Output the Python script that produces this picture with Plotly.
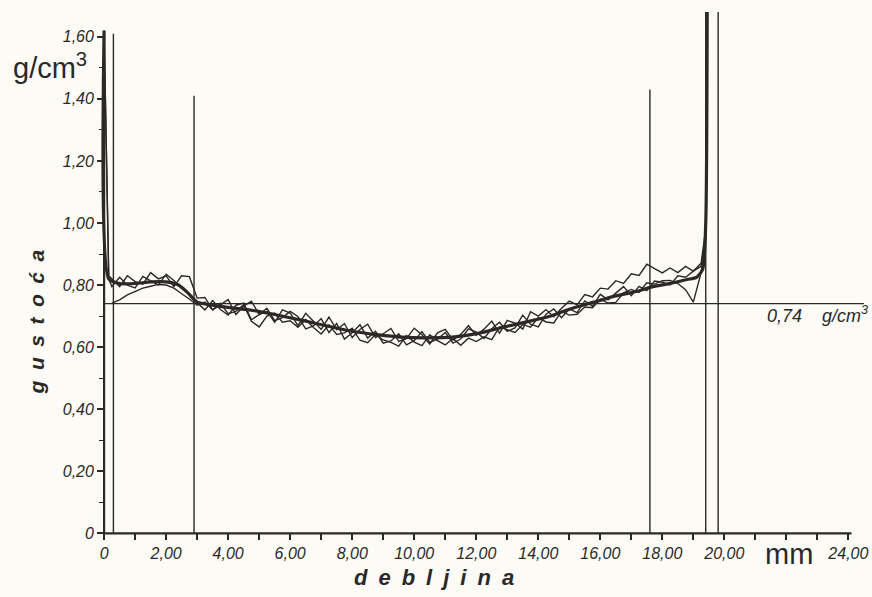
import plotly.graph_objects as go

# ---------------- data ----------------
thickness_mm = [0.0, 0.15,
    0.25, 0.5, 0.75, 1.0, 1.25, 1.5, 1.75, 2.0, 2.25, 2.5, 2.75, 3.0,
    3.25, 3.5, 3.75, 4.0, 4.25, 4.5, 4.75, 5.0, 5.25, 5.5, 5.75, 6.0,
    6.25, 6.5, 6.75, 7.0, 7.25, 7.5, 7.75, 8.0, 8.25, 8.5, 8.75, 9.0,
    9.25, 9.5, 9.75, 10.0, 10.25, 10.5, 10.75, 11.0, 11.25, 11.5, 11.75, 12.0,
    12.25, 12.5, 12.75, 13.0, 13.25, 13.5, 13.75, 14.0, 14.25, 14.5, 14.75, 15.0,
    15.25, 15.5, 15.75, 16.0, 16.25, 16.5, 16.75, 17.0, 17.25, 17.5, 17.75, 18.0,
    18.25, 18.5, 18.75, 19.0,
    19.25, 19.4, 19.45]

density_a = [1.62, 0.83,
    0.820, 0.795, 0.830, 0.811, 0.803, 0.840, 0.820, 0.830, 0.795, 0.830, 0.827, 0.758,
    0.760, 0.720, 0.736, 0.753, 0.705, 0.732, 0.748, 0.705, 0.715, 0.680, 0.720, 0.710,
    0.669, 0.709, 0.683, 0.657, 0.697, 0.656, 0.676, 0.631, 0.657, 0.674, 0.631, 0.643,
    0.660, 0.618, 0.627, 0.661, 0.640, 0.610, 0.646, 0.657, 0.623, 0.641, 0.669, 0.638,
    0.658, 0.684, 0.645, 0.686, 0.677, 0.658, 0.714, 0.700, 0.721, 0.698, 0.725, 0.748,
    0.736, 0.769, 0.762, 0.790, 0.787, 0.814, 0.805, 0.836, 0.831, 0.867, 0.853, 0.839,
    0.855, 0.840, 0.860, 0.845,
    0.87, 0.98, 1.80]

density_b = [1.62, 0.82,
    0.795, 0.825, 0.800, 0.791, 0.828, 0.815, 0.800, 0.835, 0.815, 0.790, 0.772, 0.743,
    0.720, 0.750, 0.721, 0.703, 0.735, 0.742, 0.688, 0.705, 0.725, 0.685, 0.695, 0.715,
    0.699, 0.659, 0.668, 0.692, 0.647, 0.676, 0.626, 0.646, 0.672, 0.629, 0.651, 0.613,
    0.620, 0.643, 0.607, 0.621, 0.650, 0.615, 0.626, 0.647, 0.613, 0.626, 0.659, 0.648,
    0.628, 0.659, 0.680, 0.651, 0.662, 0.703, 0.674, 0.665, 0.706, 0.723, 0.695, 0.723,
    0.711, 0.749, 0.732, 0.770, 0.752, 0.774, 0.795, 0.766, 0.796, 0.782, 0.813, 0.809,
    0.800, 0.830, 0.825, 0.845,
    0.86, 0.96, 1.80]

density_c = [None, None,
    0.742, 0.752, 0.768, 0.780, 0.790, 0.796, 0.802, 0.800, 0.790, 0.772, 0.755, 0.735,
    0.745, 0.720, 0.741, 0.708, 0.715, 0.737, 0.683, 0.665, 0.700, 0.710, 0.680, 0.685,
    0.664, 0.689, 0.663, 0.642, 0.672, 0.641, 0.646, 0.661, 0.622, 0.614, 0.641, 0.623,
    0.615, 0.603, 0.637, 0.616, 0.605, 0.640, 0.621, 0.607, 0.628, 0.606, 0.629, 0.618,
    0.633, 0.624, 0.665, 0.656, 0.647, 0.673, 0.664, 0.695, 0.681, 0.678, 0.715, 0.703,
    0.706, 0.729, 0.727, 0.755, 0.742, 0.744, 0.775, 0.786, 0.776, 0.807, 0.803, 0.814,
    0.815, 0.805, 0.785, 0.745,
    0.84, 0.95, 1.80]

mean_x = [0.0, 0.15, 0.5, 1.0, 1.5, 2.0, 2.4, 2.7, 3.0, 3.5, 4.0, 4.8, 5.5, 6.4, 7.2,
          8.0, 8.8, 9.6, 10.4, 11.3, 12.1, 12.9, 13.7, 14.4, 15.0, 15.8, 16.5, 17.2,
          17.7, 18.3, 18.8, 19.1, 19.3, 19.4, 19.45]
mean_density = [1.62, 0.82, 0.805, 0.805, 0.81, 0.81, 0.80, 0.775, 0.745, 0.735, 0.728,
                0.718, 0.705, 0.686, 0.668, 0.651, 0.64, 0.632, 0.630, 0.633, 0.645,
                0.665, 0.683, 0.70, 0.722, 0.745, 0.765, 0.78, 0.795, 0.806, 0.818,
                0.825, 0.85, 1.0, 1.80]

marker_lines_x = [0.3, 2.9, 17.6, 19.4, 19.8]
marker_lines_top = [1.61, 1.41, 1.43, 1.75, 1.75]

average_density = 0.74
average_label = "0,74&nbsp;&nbsp;&nbsp;&nbsp;g/cm<sup>3</sup>"

x_tick_vals = [0, 2, 4, 6, 8, 10, 12, 14, 16, 18, 20, 24]
x_tick_text = ["0", "2,00", "4,00", "6,00", "8,00", "10,00", "12,00", "14,00",
               "16,00", "18,00", "20,00", "24,00"]
x_minor_vals = [1, 3, 5, 7, 9, 11, 13, 15, 17, 19, 21, 22, 23]
y_tick_vals = [0, 0.2, 0.4, 0.6, 0.8, 1.0, 1.2, 1.4, 1.6]
y_tick_text = ["0", "0,20", "0,40", "0,60", "0,80", "1,00", "1,20", "1,40", "1,60"]
y_minor_vals = [0.1, 0.3, 0.5, 0.7, 0.9, 1.1, 1.3, 1.5]

x_axis_end = 24.1
y_axis_end = 1.6
h_line_end = 24.5

# ---------------- styling ----------------
INK = "#2a2926"
PAPER = "#fcfbf6"
FONT = "Liberation Sans"

X_RANGE = [-0.1, 24.6]
Y_RANGE = [-0.012, 1.68]

fig = go.Figure()

for ys in (density_a, density_b, density_c):
    fig.add_trace(go.Scatter(x=thickness_mm, y=ys, mode="lines",
                             line=dict(color=INK, width=1.4),
                             connectgaps=False, hoverinfo="skip"))

fig.add_trace(go.Scatter(x=mean_x, y=mean_density, mode="lines",
                         line=dict(color=INK, width=3.2, shape="spline", smoothing=0.6),
                         hoverinfo="skip"))

# vertical marker lines
for xv, top in zip(marker_lines_x, marker_lines_top):
    fig.add_trace(go.Scatter(x=[xv, xv], y=[0, top], mode="lines",
                             line=dict(color=INK, width=1.4), hoverinfo="skip"))

# average density line
fig.add_trace(go.Scatter(x=[0, h_line_end], y=[average_density, average_density],
                         mode="lines", line=dict(color=INK, width=1.4), hoverinfo="skip"))

# axis lines
fig.add_shape(type="line", x0=0, x1=0, y0=0, y1=y_axis_end, xref="x", yref="y",
              line=dict(color=INK, width=2.2))
fig.add_shape(type="line", x0=0, x1=x_axis_end, y0=0, y1=0, xref="x", yref="y",
              line=dict(color=INK, width=2.2))

tickfont = dict(family=FONT, size=16, color=INK, style="italic")

fig.update_layout(
    width=872, height=597,
    margin=dict(l=101, r=5, t=12, b=60),
    paper_bgcolor=PAPER, plot_bgcolor=PAPER,
    showlegend=False,
    xaxis=dict(range=X_RANGE, showgrid=False, zeroline=False, showline=False,
               automargin=False,
               tickmode="array", tickvals=x_tick_vals, ticktext=x_tick_text,
               ticks="outside", ticklen=6, tickwidth=1.6, tickcolor=INK,
               tickfont=tickfont, anchor="free",
               position=(0 - Y_RANGE[0]) / (Y_RANGE[1] - Y_RANGE[0]),
               minor=dict(tickvals=x_minor_vals, ticks="outside", ticklen=6,
                          tickwidth=1.6, tickcolor=INK)),
    yaxis=dict(range=Y_RANGE, showgrid=False, zeroline=False, showline=False,
               automargin=False,
               tickmode="array", tickvals=y_tick_vals, ticktext=y_tick_text,
               ticks="outside", ticklen=7, tickwidth=1.6, tickcolor=INK,
               tickfont=tickfont, anchor="free",
               position=(0 - X_RANGE[0]) / (X_RANGE[1] - X_RANGE[0]),
               minor=dict(tickvals=y_minor_vals, ticks="outside", ticklen=5,
                          tickwidth=1.4, tickcolor=INK)),
)

fig.add_annotation(text="g/cm<sup>3</sup>", xref="paper", yref="paper",
                   x=-0.066, y=0.897, xanchor="center", yanchor="middle",
                   showarrow=False, font=dict(family=FONT, size=29, color=INK))
fig.add_annotation(text="g\u2002u\u2002s\u2002t\u2002o\u2002ć\u2002a", xref="paper", yref="paper",
                   x=-0.084, y=0.41, xanchor="center", yanchor="middle", textangle=-90,
                   showarrow=False,
                   font=dict(family=FONT, size=21, color=INK, weight="bold", style="italic"))
fig.add_annotation(text="d\u2002e\u2002b\u2002l\u2002j\u2002i\u2002n\u2002a", xref="paper", yref="paper",
                   x=0.435, y=-0.078, xanchor="center", yanchor="middle",
                   showarrow=False,
                   font=dict(family=FONT, size=22, color=INK, weight="bold", style="italic"))
fig.add_annotation(text="mm", xref="x", yref="paper",
                   x=22.1, y=-0.032, xanchor="center", yanchor="middle",
                   showarrow=False, font=dict(family=FONT, size=29, color=INK))
fig.add_annotation(text=average_label, xref="paper", yref="y",
                   x=1.004, y=average_density, xanchor="right", yanchor="middle", yshift=-11,
                   showarrow=False, font=dict(family=FONT, size=18, color=INK, style="italic"))

fig.write_html("out.html", config={"displayModeBar": False},
               post_script="document.body.style.margin='0';")
